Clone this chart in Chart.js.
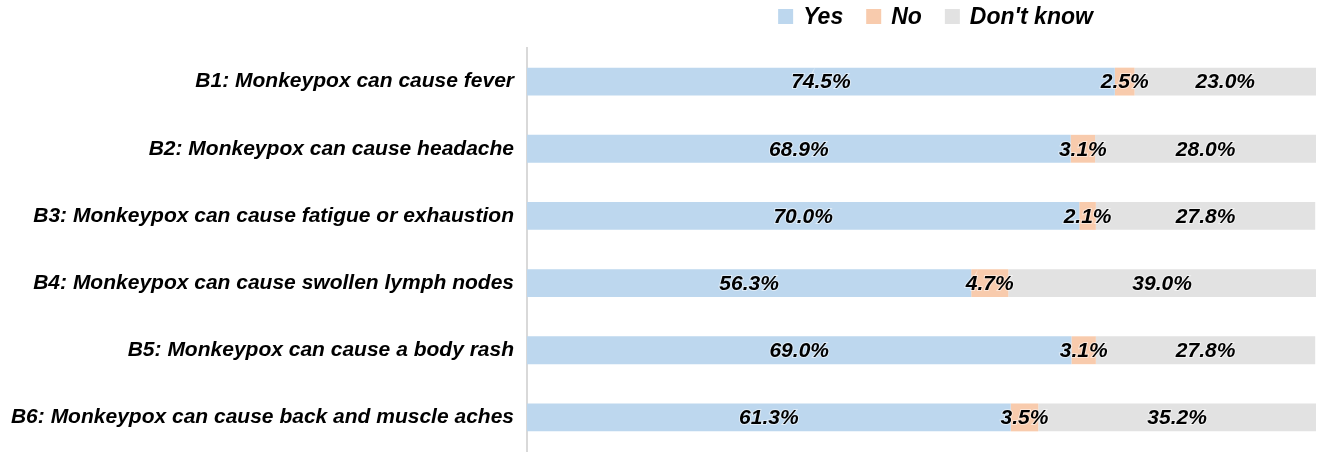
<!DOCTYPE html>
<html>
<head>
<meta charset="utf-8">
<script src="https://cdn.jsdelivr.net/npm/chart.js@4.4.0/dist/chart.umd.min.js"></script>
<style>
html,body{margin:0;padding:0;background:#fff;}
#wrap{width:1325px;height:459px;}
</style>
</head>
<body>
<div id="wrap"><canvas id="c" width="1325" height="459"></canvas></div>
<script>
const categories = [
  "B1: Monkeypox can cause fever",
  "B2: Monkeypox can cause headache",
  "B3: Monkeypox can cause fatigue or exhaustion",
  "B4: Monkeypox can cause swollen lymph nodes",
  "B5: Monkeypox can cause a body rash",
  "B6: Monkeypox can cause back and muscle aches"
];
const seriesNames = ["Yes", "No", "Don't know"];
const yesValues = [74.5, 68.9, 70.0, 56.3, 69.0, 61.3];
const noValues = [2.5, 3.1, 2.1, 4.7, 3.1, 3.5];
const dontKnowValues = [23.0, 28.0, 27.8, 39.0, 27.8, 35.2];
const colors = ["#BDD7EE", "#F8CBAD", "#E2E2E2"];

const FONT = "'Liberation Sans', Arial, sans-serif";

const labelPlugin = {
  id: 'valueLabels',
  afterDatasetsDraw(chart) {
    const ctx = chart.ctx;
    ctx.save();
    ctx.font = "italic bold 21px " + FONT;
    ctx.textAlign = 'center';
    ctx.textBaseline = 'middle';
    chart.data.datasets.forEach((ds, di) => {
      const meta = chart.getDatasetMeta(di);
      meta.data.forEach((el, i) => {
        const v = ds.data[i];
        const x = (el.x + el.base) / 2;
        const t = v.toFixed(1) + '%';
        ctx.lineWidth = 2;
        ctx.strokeStyle = 'rgba(255,255,255,0.5)';
        ctx.strokeText(t, x, el.y + 1);
        ctx.fillStyle = '#000';
        ctx.fillText(t, x, el.y + 1);
      });
    });
    ctx.restore();
  }
};

const legendPlugin = {
  id: 'customLegend',
  afterDraw(chart) {
    const ctx = chart.ctx;
    ctx.save();
    ctx.font = "italic bold 23px " + FONT;
    ctx.textBaseline = 'middle';
    const box = 15, gapText = 10, gapItem = 23;
    const items = chart.data.datasets.map(d => ({label: d.label, color: d.backgroundColor}));
    let total = 0;
    items.forEach((it, i) => {
      it.w = ctx.measureText(it.label).width;
      total += box + gapText + it.w + (i < items.length - 1 ? gapItem : 0);
    });
    const ca = chart.chartArea;
    let x = (ca.left + ca.right) / 2 + 14 - total / 2;
    const cy = 16.5;
    items.forEach(it => {
      ctx.fillStyle = it.color;
      ctx.fillRect(x, cy - box / 2, box, box);
      x += box + gapText;
      ctx.fillStyle = '#000';
      ctx.fillText(it.label, x, cy + 1);
      x += it.w + gapItem;
    });
    ctx.restore();
  }
};

new Chart(document.getElementById('c'), {
  type: 'bar',
  data: {
    labels: categories,
    datasets: [
      {label: seriesNames[0], data: yesValues, backgroundColor: colors[0]},
      {label: seriesNames[1], data: noValues, backgroundColor: colors[1]},
      {label: seriesNames[2], data: dontKnowValues, backgroundColor: colors[2]}
    ]
  },
  options: {
    indexAxis: 'y',
    responsive: false,
    animation: false,
    devicePixelRatio: 1,
    categoryPercentage: 1,
    barPercentage: 0.415,
    layout: {padding: {left: 0, right: 9, top: 48, bottom: 8}},
    plugins: {
      legend: {display: false},
      tooltip: {enabled: false}
    },
    scales: {
      x: {stacked: true, min: 0, max: 100, display: false},
      y: {
        stacked: true,
        grid: {display: false, drawTicks: false},
        border: {display: true, color: '#D9D9D9', width: 2},
        ticks: {
          color: '#000',
          padding: 13,
          font: {family: FONT, size: 21, style: 'italic', weight: 'bold'}
        },
        afterFit(scale) {
          scale.width = 527;
          scale.paddingTop = 0;
          scale.paddingBottom = 0;
        }
      }
    }
  },
  plugins: [labelPlugin, legendPlugin]
});
</script>
</body>
</html>
